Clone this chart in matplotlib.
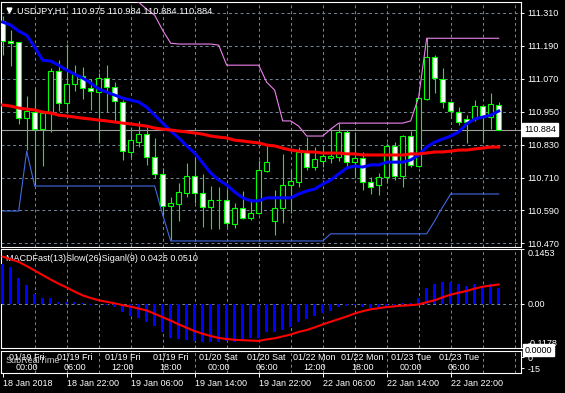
import numpy as np
import matplotlib
matplotlib.use('Agg')
import matplotlib.pyplot as plt

plt.rcParams['font.family'] = ['Liberation Sans', 'DejaVu Sans']

# USDJPY H1 candles (one per hour, weekend gap after bar 33)
opens = np.array([111.279, 111.206, 111.203, 110.926, 110.948, 110.886, 110.945, 111.097, 110.981, 111.050,
                  111.079, 111.036, 111.021, 111.072, 111.039, 110.985, 110.803, 110.839, 110.868, 110.785,
                  110.723, 110.606, 110.614, 110.654, 110.716, 110.654, 110.603, 110.628, 110.628, 110.541,
                  110.599, 110.563, 110.581, 110.734, 110.552, 110.599, 110.683, 110.694, 110.803, 110.748,
                  110.770, 110.781, 110.785, 110.876, 110.766, 110.781, 110.694, 110.683, 110.712, 110.825,
                  110.716, 110.861, 110.752, 110.996, 111.148, 111.068, 110.985, 110.948, 110.923, 110.923,
                  110.970, 110.930, 110.975])
highs = np.array([111.297, 111.246, 111.203, 111.006, 111.036, 110.948, 111.108, 111.137, 111.196, 111.119,
                  111.112, 111.068, 111.090, 111.119, 111.057, 110.992, 110.894, 110.916, 110.894, 110.854,
                  110.745, 110.639, 110.690, 110.763, 110.781, 110.723, 110.679, 110.676, 110.668, 110.617,
                  110.661, 110.632, 110.774, 110.825, 110.665, 110.796, 110.737, 110.821, 110.857, 110.821,
                  110.825, 110.886, 110.908, 110.883, 110.876, 110.803, 110.712, 110.726, 110.836, 110.839,
                  110.865, 110.879, 111.003, 111.217, 111.156, 111.108, 110.985, 110.966, 110.937, 110.992,
                  110.974, 111.017, 110.984])
lows = np.array([111.156, 111.116, 110.905, 110.810, 110.683, 110.752, 110.876, 110.952, 110.945, 111.025,
                 110.996, 110.956, 110.836, 110.948, 110.912, 110.774, 110.785, 110.821, 110.756, 110.708,
                 110.574, 110.483, 110.552, 110.639, 110.617, 110.530, 110.523, 110.523, 110.530, 110.526,
                 110.559, 110.556, 110.577, 110.730, 110.501, 110.545, 110.581, 110.676, 110.737, 110.737,
                 110.748, 110.763, 110.770, 110.748, 110.708, 110.665, 110.650, 110.646, 110.690, 110.701,
                 110.676, 110.748, 110.748, 110.992, 111.017, 110.963, 110.926, 110.901, 110.836, 110.916,
                 110.836, 110.886, 110.884])
closes = np.array([111.206, 111.199, 110.926, 110.952, 110.886, 110.945, 111.097, 110.981, 111.050, 111.086,
                   111.036, 111.025, 111.072, 111.039, 110.988, 110.806, 110.846, 110.868, 110.785, 110.723,
                   110.606, 110.617, 110.657, 110.716, 110.654, 110.603, 110.628, 110.628, 110.545, 110.599,
                   110.563, 110.581, 110.737, 110.766, 110.599, 110.683, 110.697, 110.803, 110.748, 110.777,
                   110.788, 110.788, 110.876, 110.766, 110.781, 110.694, 110.676, 110.712, 110.825, 110.716,
                   110.861, 110.756, 110.999, 111.148, 111.072, 110.985, 110.952, 110.912, 110.912, 110.970,
                   110.930, 110.977, 110.884])

# indicator lines
ma_fast = np.array([111.276, 111.265, 111.243, 111.228, 111.185, 111.137, 111.134, 111.119, 111.101, 111.086,
                    111.072, 111.054, 111.032, 111.021, 111.010, 110.999, 110.992, 110.985, 110.966, 110.937,
                    110.908, 110.879, 110.854, 110.825, 110.799, 110.763, 110.726, 110.701, 110.683, 110.657,
                    110.636, 110.625, 110.625, 110.636, 110.636, 110.636, 110.636, 110.650, 110.661, 110.668,
                    110.686, 110.701, 110.723, 110.745, 110.752, 110.748, 110.756, 110.756, 110.766, 110.766,
                    110.766, 110.774, 110.792, 110.821, 110.839, 110.850, 110.861, 110.876, 110.905, 110.923,
                    110.930, 110.937, 110.952])
ma_slow = np.array([110.974, 110.970, 110.963, 110.959, 110.956, 110.948, 110.945, 110.937, 110.934, 110.930,
                    110.926, 110.923, 110.919, 110.916, 110.912, 110.908, 110.905, 110.901, 110.897, 110.890,
                    110.886, 110.883, 110.879, 110.876, 110.872, 110.868, 110.861, 110.857, 110.854, 110.846,
                    110.843, 110.839, 110.836, 110.828, 110.825, 110.817, 110.810, 110.806, 110.803, 110.803,
                    110.799, 110.799, 110.799, 110.796, 110.796, 110.792, 110.792, 110.792, 110.792, 110.792,
                    110.792, 110.796, 110.796, 110.799, 110.803, 110.803, 110.806, 110.810, 110.810, 110.814,
                    110.817, 110.821, 110.821])
chan_high = np.array([111.400] * 16 + [111.374, 111.348, 111.323, 111.301,
                      111.246, 111.199, 111.196, 111.196, 111.196, 111.196, 111.196, 111.192, 111.119, 111.119,
                      111.119, 111.119, 111.119, 111.057, 111.028, 110.916, 110.916, 110.897, 110.861, 110.861,
                      110.861, 110.886, 110.908, 110.908, 110.908, 110.908, 110.908, 110.908, 110.908, 110.908,
                      110.908, 110.916, 111.003] + [111.217] * 10)
chan_low = np.array([110.588, 110.588, 110.588, 110.806] + [110.679] * 16 +
                    [110.574] + [110.479] * 20 + [110.505] * 13 + [110.552, 110.603] + [110.650] * 7)

macd_hist = np.array([0.106, 0.097, 0.068, 0.049, 0.027, 0.015, 0.015, 0.005, 0.0035, 0.004,
                      0.001, -0.0045, -0.002, -0.0045, -0.009, -0.022, -0.033, -0.037, -0.049, -0.060,
                      -0.076, -0.091, -0.094, -0.096, -0.099, -0.101, -0.103, -0.102, -0.098, -0.101,
                      -0.094, -0.091, -0.090, -0.076, -0.076, -0.069, -0.063, -0.049, -0.042, -0.033,
                      -0.026, -0.020, -0.009, -0.006, -0.004, -0.009, -0.011, -0.009, -0.006, -0.004,
                      0.003, 0.001, 0.016, 0.041, 0.052, 0.057, 0.057, 0.052, 0.048, 0.052,
                      0.047, 0.052, 0.0425])
macd_signal = np.array([0.125, 0.118, 0.111, 0.100, 0.088, 0.076, 0.064, 0.053, 0.043, 0.032,
                        0.022, 0.015, 0.009, 0.005, 0.001, -0.004, -0.008, -0.013, -0.018, -0.027,
                        -0.036, -0.045, -0.055, -0.064, -0.073, -0.080, -0.086, -0.091, -0.094, -0.096,
                        -0.097, -0.098, -0.099, -0.095, -0.092, -0.087, -0.082, -0.075, -0.070, -0.063,
                        -0.055, -0.048, -0.041, -0.034, -0.026, -0.020, -0.015, -0.012, -0.009, -0.007,
                        -0.005, -0.004, -0.002, 0.004, 0.009, 0.017, 0.024, 0.029, 0.034, 0.040,
                        0.045, 0.048, 0.051])

price_ticks = [111.310, 111.190, 111.070, 110.950, 110.830, 110.710, 110.590, 110.470]
last_price = 110.884
time_tick_bars = [0, 8, 16, 24, 32, 40, 48, 56]
time_tick_labels = ['18 Jan 2018', '18 Jan 22:00', '19 Jan 06:00', '19 Jan 14:00',
                    '19 Jan 22:00', '22 Jan 06:00', '22 Jan 14:00', '22 Jan 22:00']
sub_bars = [3, 9, 15, 21, 27, 33, 39, 45, 51, 57]
sub_labels = ['01/19 Fri\n00:00', '01/19 Fri\n06:00', '01/19 Fri\n12:00', '01/19 Fri\n18:00',
              '01/20 Sat\n00:00', '01/20 Sat\n06:00', '01/22 Mon\n12:00', '01/22 Mon\n18:00',
              '01/23 Tue\n00:00', '01/23 Tue\n06:00']

W, H = 565, 393
fig = plt.figure(figsize=(W / 100, H / 100), dpi=100, facecolor='black')


def rect(l, t, r, b):
    return [l / W, (H - b) / H, (r - l) / W, (b - t) / H]


ax = fig.add_axes(rect(1, 2, 521, 247))
axm = fig.add_axes(rect(1, 249, 521, 348), sharex=ax)
axs = fig.add_axes(rect(1, 351, 521, 373), sharex=ax)

grid_kw = dict(color='#778899', lw=0.7, ls=(0, (3, 3)), zorder=0.5)
for a in (ax, axm, axs):
    a.set_facecolor('black')
    for s in a.spines.values():
        s.set_color('white')
        s.set_linewidth(0.8)
    a.yaxis.tick_right()
    a.tick_params(axis='y', colors='white', labelsize=6.5, length=2, width=0.7, pad=2.5)
    for i in range(4, 65, 4):
        a.axvline(i, **grid_kw)

x = np.arange(len(opens))
ax.set_xlim(-0.21, 64.79)

# main price panel
ax.set_ylim(110.457, 111.349)
for p in price_ticks:
    ax.axhline(p, **grid_kw)
ax.axhline(last_price, color='#a0a0a0', lw=0.8, zorder=1)

up = closes >= opens
ax.vlines(x, lows, highs, color='#00ff00', lw=0.8, zorder=2)
ax.bar(x, np.abs(closes - opens), bottom=np.minimum(opens, closes), width=0.55,
       color=np.where(up, 'black', 'white'), edgecolor='#00ff00', linewidth=0.8, zorder=3)
ax.plot(x, chan_high, color='#ee82ee', lw=0.8, zorder=4)
ax.plot(x, chan_low, color='#4169e1', lw=0.8, zorder=4)
ax.plot(x, ma_fast, color='#0000ff', lw=2.2, zorder=5)
ax.plot(x, ma_slow, color='#ff0000', lw=2.2, zorder=6)

ax.set_yticks(price_ticks)
ax.set_yticklabels(['%.3f' % p for p in price_ticks])
ax.tick_params(axis='x', bottom=False, labelbottom=False)
ax.text(0.031, 0.964, 'USDJPY,H1  110.975 110.984 110.884 110.884', transform=ax.transAxes,
        color='white', fontsize=6.7, va='center', ha='left', zorder=10)
ax.plot([0.0155], [0.966], marker='v', ms=3.5, color='white', transform=ax.transAxes, clip_on=False)
ax.text(1.0058, last_price, '110.884', transform=ax.get_yaxis_transform(), color='black',
        fontsize=6.5, va='center', ha='left', clip_on=False,
        bbox=dict(boxstyle='square,pad=0.25', fc='white', ec='white'))

# MACD panel
axm.set_ylim(-0.1178, 0.1453)
axm.axhline(0, **grid_kw)
axm.bar(x, macd_hist, width=0.4, color='#0000ff', zorder=3)
axm.plot(x, macd_signal, color='#ff0000', lw=1.5, zorder=4)
axm.set_yticks([0.1453, 0.0, -0.1178])
labs = axm.set_yticklabels(['0.1453', '0.00', '-0.1178'])
labs[0].set_va('top')
labs[2].set_va('bottom')
axm.tick_params(axis='x', bottom=False, labelbottom=False)
axm.text(0.0096, 0.909, 'MACDFast(13)Slow(26)Siganl(9) 0.0425 0.0510', transform=axm.transAxes,
         color='white', fontsize=6.5, va='center', ha='left')

# sub panel with local time labels
axs.set_ylim(-21.8, 8.2)
axs.set_yticks([0, -15])
axs.set_yticklabels(['0', '-15'])
for b, lab in zip(sub_bars, sub_labels):
    axs.text(b, 0.48, lab, transform=axs.get_xaxis_transform(), color='white', fontsize=6.5,
             ha='center', va='center', linespacing=1.15)
axs.text(0.0096, 0.59, 'SubRealTime', transform=axs.transAxes, color='#d0d0d0',
         fontsize=6.5, va='center', ha='left')
axs.text(1.0077, 1.045, '0.0000', transform=axs.transAxes, color='black', fontsize=6.5,
         va='center', ha='left', clip_on=False,
         bbox=dict(boxstyle='square,pad=0.2', fc='white', ec='white'))
axs.set_xticks(time_tick_bars)
axs.set_xticklabels(time_tick_labels, ha='left')
axs.tick_params(axis='x', colors='white', labelsize=6.5, length=3, width=0.7, pad=1.5)

fig.savefig('out.png', dpi=100, facecolor='black')
